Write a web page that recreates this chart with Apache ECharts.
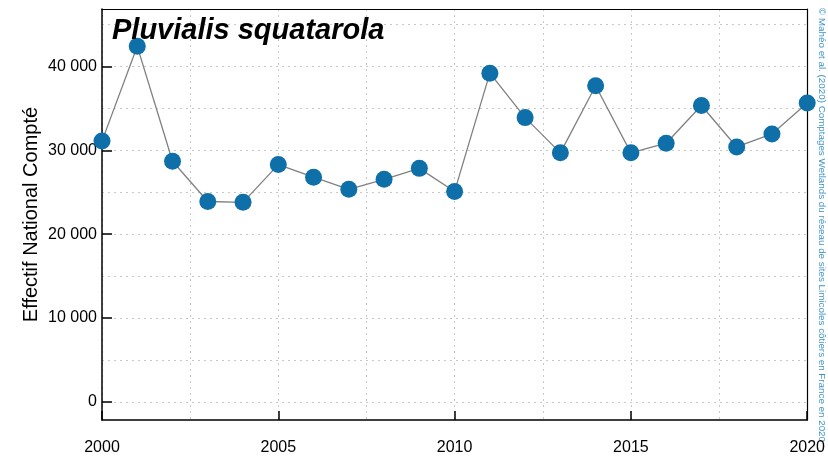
<!DOCTYPE html>
<html>
<head>
<meta charset="utf-8">
<script src="https://cdn.jsdelivr.net/npm/echarts@6/dist/echarts.min.js"></script>
<style>
  html, body { margin: 0; padding: 0; background: #fff; }
  #chart { width: 828px; height: 456px; }
</style>
</head>
<body>
<div id="chart"></div>
<script>
const years = [2000, 2001, 2002, 2003, 2004, 2005, 2006, 2007, 2008, 2009, 2010,
  2011, 2012, 2013, 2014, 2015, 2016, 2017, 2018, 2019, 2020];
const counts = [31100, 42400, 28700, 23900, 23800, 28300, 26800, 25350, 26550, 27850, 25100,
  39200, 33900, 29700, 37700, 29700, 30850, 35350, 30400, 31950, 35650];
const yLabelValues = [0, 10000, 20000, 30000, 40000];
const yGridValues = [0, 5000, 10000, 15000, 20000, 25000, 30000, 35000, 40000, 45000];

const FONT = '"Liberation Sans", Arial, sans-serif';
const Y_MIN = -2150;
const Y_MAX = 46850;

const chart = echarts.init(document.getElementById('chart'));

// thousands with a space, like "40 000"
const fmtThousands = (v) => String(v).replace(/\B(?=(\d{3})+(?!\d))/g, ' ');

const gridDots = { show: true, lineStyle: { color: '#c8c8c8', type: [2, 4], width: 1 } };

const option = {
  animation: false,
  backgroundColor: '#fff',
  title: {
    text: 'Pluvialis squatarola',
    left: 112,
    top: 16,
    padding: 0,
    textStyle: {
      fontFamily: FONT,
      fontSize: 29,
      fontWeight: 'bold',
      fontStyle: 'italic',
      color: '#000',
    },
  },
  graphic: [
    {
      type: 'text',
      x: 822,
      y: 225,
      rotation: -Math.PI / 2,
      style: {
        text: '© Mahéo et al. (2020) Comptages Wetlands du réseau de sites Limicoles côtiers en France en 2020',
        fontFamily: FONT,
        fontSize: 9.8,
        fill: '#3f95c8',
        align: 'center',
        verticalAlign: 'middle',
      },
    },
  ],
  grid: {
    left: 102,
    right: 20,
    top: 9,
    bottom: 34,
    show: false,
  },
  xAxis: [
    {
      type: 'value',
      min: 2000,
      max: 2020,
      interval: 5,
      axisLine: { show: true, onZero: false, lineStyle: { color: '#000', width: 1.5 } },
      axisTick: { show: true, inside: true, length: 9, lineStyle: { color: '#000', width: 1.5 } },
      axisLabel: {
        margin: 20,
        fontFamily: FONT,
        fontSize: 16,
        color: '#000',
        formatter: (v) => String(v),
      },
      splitLine: { show: false },
      z: 3,
    },
    {
      // dotted grid every 2.5 years, plus the top frame line
      type: 'value',
      min: 2000,
      max: 2020,
      interval: 2.5,
      position: 'top',
      axisLine: { show: true, onZero: false, lineStyle: { color: '#000', width: 1.2 } },
      axisTick: { show: false },
      axisLabel: { show: false },
      splitLine: gridDots,
      z: 3,
    },
  ],
  yAxis: [
    {
      type: 'value',
      min: Y_MIN,
      max: Y_MAX,
      name: 'Effectif National Compté',
      nameLocation: 'middle',
      nameGap: 61,
      nameMoveOverlap: false,
      nameTextStyle: { fontFamily: FONT, fontSize: 20, color: '#000' },
      axisLine: { show: true, onZero: false, lineStyle: { color: '#000', width: 1.5 } },
      axisTick: {
        show: true,
        inside: true,
        length: 10,
        customValues: yLabelValues,
        lineStyle: { color: '#000', width: 1.5 },
      },
      axisLabel: {
        customValues: yLabelValues,
        margin: 5,
        fontFamily: FONT,
        fontSize: 16,
        color: '#000',
        formatter: fmtThousands,
      },
      splitLine: { show: false },
      z: 3,
    },
    {
      // dotted grid every 5 000, plus the right frame line
      type: 'value',
      min: Y_MIN,
      max: Y_MAX,
      position: 'right',
      axisLine: { show: true, onZero: false, lineStyle: { color: '#000', width: 1.2 } },
      axisTick: { show: false, customValues: yGridValues },
      axisLabel: { show: false },
      splitLine: gridDots,
      z: 3,
    },
  ],
  series: [
    {
      type: 'line',
      xAxisIndex: 0,
      yAxisIndex: 0,
      data: years.map((y, i) => [y, counts[i]]),
      symbol: 'circle',
      symbolSize: 17,
      showAllSymbol: true,
      clip: false,
      lineStyle: { color: '#808080', width: 1.3 },
      itemStyle: { color: '#0f6fa8' },
      z: 5,
    },
  ],
};

chart.setOption(option);
</script>
</body>
</html>
